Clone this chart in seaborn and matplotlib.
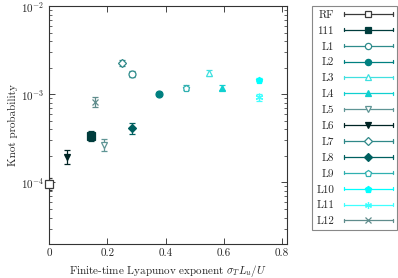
import matplotlib
matplotlib.use('Agg')
import matplotlib.pyplot as plt
import seaborn as sns
import numpy as np
from matplotlib.lines import Line2D
from matplotlib.legend_handler import HandlerLine2D

# values
labels = ['RF', '111', 'L1', 'L2', 'L3', 'L4', 'L5', 'L6', 'L7', 'L8', 'L9', 'L10', 'L11', 'L12']
lyap = [0.0, 0.143, 0.284, 0.376, 0.549, 0.595, 0.190, 0.063, 0.251, 0.284, 0.469, 0.720, 0.720, 0.157]
knot_prob = [9.7e-5, 3.36e-4, 1.70e-3, 1.02e-3, 1.73e-3, 1.19e-3, 2.65e-4, 1.95e-4,
             2.25e-3, 4.11e-4, 1.19e-3, 1.46e-3, 9.2e-4, 8.2e-4]
err_lo = [1.4e-5, 0.41e-4, 0.13e-3, 0.04e-3, 0.13e-3, 0.08e-3, 0.40e-4, 0.34e-4,
          0.17e-3, 0.55e-4, 0.08e-3, 0.06e-3, 0.09e-3, 0.10e-3]
err_hi = [1.6e-5, 0.47e-4, 0.14e-3, 0.04e-3, 0.14e-3, 0.08e-3, 0.48e-4, 0.41e-4,
          0.18e-3, 0.64e-4, 0.08e-3, 0.06e-3, 0.10e-3, 0.11e-3]

colors = ['#3a3a3a', '#003c3c', '#2e8b8b', '#008080', '#40e0e0', '#10d0d0', '#5f9595',
          '#002424', '#2f8888', '#006060', '#30b0b0', '#00ffff', '#40ffff', '#5f8c8c']
markers = ['s', 's', 'o', 'o', '^', '^', 'v', 'v', 'D', 'D', 'p', 'p', (6, 2, 0), 'x']
filled = [False, True, False, True, False, True, False, True, False, True, False, True, True, True]
msizes = [5.2, 5.2, 5, 5, 5, 5, 5, 5, 4, 4, 5, 5, 5.5, 5]

sns.set_theme(style='ticks')
plt.rcParams['font.family'] = 'serif'
plt.rcParams['font.serif'] = ['cmr10', 'DejaVu Serif']
plt.rcParams['mathtext.fontset'] = 'cm'
plt.rcParams['axes.formatter.use_mathtext'] = True
plt.rcParams['axes.unicode_minus'] = False
plt.rcParams['font.size'] = 8


class HandlerCapped(HandlerLine2D):
    def create_artists(self, legend, orig_handle, xdescent, ydescent, width, height, fontsize, trans):
        artists = super().create_artists(legend, orig_handle, xdescent, ydescent,
                                         width, height, fontsize, trans)
        y = height / 2 - ydescent
        for x in (-xdescent, width - xdescent):
            cap = Line2D([x, x], [y - 0.22 * height, y + 0.22 * height],
                         color=orig_handle.get_color(), lw=orig_handle.get_linewidth())
            cap.set_transform(trans)
            artists.append(cap)
        return artists


fig = plt.figure(figsize=(3.98, 2.78), dpi=100)
ax = fig.add_axes([0.123, 0.122, 0.597, 0.856])

handles = []
for i in range(len(labels)):
    fc = colors[i] if filled[i] else 'white'
    ax.errorbar([lyap[i]], [knot_prob[i]], yerr=[[err_lo[i]], [err_hi[i]]],
                fmt='none', ecolor=colors[i], elinewidth=0.9, capsize=2.2, capthick=0.9, zorder=2)
    ax.plot([lyap[i]], [knot_prob[i]], linestyle='none', marker=markers[i], ms=msizes[i],
            mfc=fc, mec=colors[i], mew=0.9, color=colors[i], clip_on=False, zorder=3)
    handles.append(Line2D([], [], color=colors[i], lw=0.9, marker=markers[i], ms=msizes[i] * 0.9,
                          mfc=fc, mec=colors[i], mew=0.9, label=labels[i]))

ax.set_yscale('log')
ax.set_xlim(0, 0.815)
ax.set_ylim(2e-5, 1e-2)
ax.set_xticks([0, 0.2, 0.4, 0.6, 0.8])
ax.set_xticklabels(['0', '0.2', '0.4', '0.6', '0.8'])
ax.tick_params(which='both', direction='in', top=True, right=True, labelsize=8)
ax.tick_params(which='major', length=4, width=0.6)
ax.tick_params(which='minor', length=2, width=0.5)
for s in ax.spines.values():
    s.set_linewidth(0.8)
    s.set_color('#333333')

ax.set_xlabel(r'Finite-time Lyapunov exponent $\sigma_T L_u/U$', fontsize=8, labelpad=3)
ax.set_ylabel('Knot probability', fontsize=8, labelpad=2)

leg = fig.legend(handles=handles, loc='upper right', bbox_to_anchor=(0.997, 0.978),
                 bbox_transform=fig.transFigure, borderaxespad=0, markerfirst=False,
                 handler_map={Line2D: HandlerCapped(numpoints=1)}, handlelength=4.4,
                 labelspacing=0.55, fancybox=False, framealpha=1, edgecolor='#888888',
                 fontsize=8, handletextpad=0.9, borderpad=0.35)
leg.get_frame().set_linewidth(0.8)

fig.savefig('out.png', dpi=100)
